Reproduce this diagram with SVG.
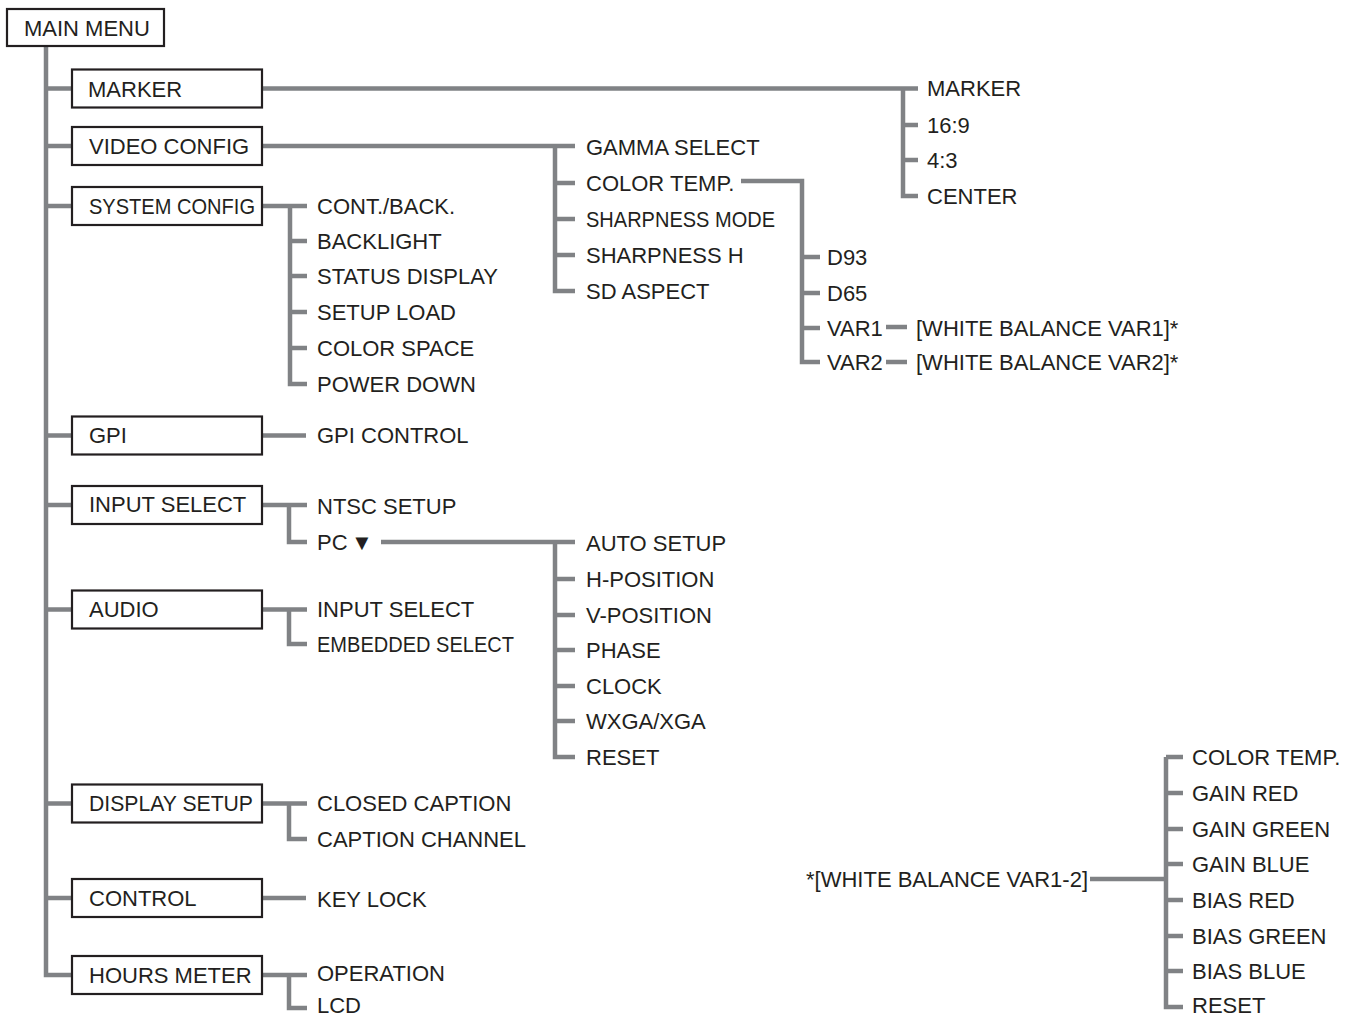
<svg xmlns="http://www.w3.org/2000/svg" width="1355" height="1018" viewBox="0 0 1355 1018">
<style>
text{font-family:"Liberation Sans",Arial,sans-serif;font-size:22px;fill:#231f20}
.box{fill:#fff;stroke:#231f20;stroke-width:2.2}
.ln{fill:none;stroke:#808285;stroke-width:4.5;stroke-linejoin:miter;stroke-linecap:butt}
</style>
<rect width="1355" height="1018" fill="#fff"/>
<g id="connectors" class="ln">
<path d="M46,46 V975 H72 M46,88.5 H72 M46,146 H72 M46,206 H72 M46,435.5 H72 M46,505 H72 M46,609.5 H72 M46,803.5 H72 M46,898 H72"/>
<path d="M262,88.5 H918 M903,88.5 V196 H918 M903,125 H918 M903,160 H918"/>
<path d="M262,146 H575 M555,146 V291 H575 M555,183 H575 M555,219 H575 M555,255 H575"/>
<path d="M741,181 H802 V362 H820 M802,257 H820 M802,293 H820 M802,328 H820"/>
<path d="M886,327 H907 M886,362 H907"/>
<path d="M262,206 H307 M290,206 V384 H307 M290,241 H307 M290,276 H307 M290,312 H307 M290,348 H307"/>
<path d="M263,435.5 H306"/>
<path d="M263,505 H307 M289,505 V542 H307"/>
<path d="M381,542 H575 M555,542 V757 H575 M555,579 H575 M555,615 H575 M555,650 H575 M555,686 H575 M555,721 H575"/>
<path d="M263,609.5 H307 M289,609.5 V644 H307"/>
<path d="M263,803.5 H307 M289,803.5 V839 H307"/>
<path d="M263,898 H306"/>
<path d="M263,975 H307 M289,975 V1008 H307"/>
<path d="M1090,879 H1166 M1166,757 V1007 H1183 M1166,757 H1183 M1166,793 H1183 M1166,829 H1183 M1166,864 H1183 M1166,900 H1183 M1166,936 H1183 M1166,971 H1183"/>
</g>
<g id="main-menu"><rect class="box" x="7" y="9" width="157" height="37"/><text x="24" y="36">MAIN MENU</text></g>
<g id="marker"><rect class="box" x="72" y="69.5" width="190" height="38"/><text x="88" y="97">MARKER</text></g>
<g id="video-config"><rect class="box" x="72" y="127" width="190" height="38"/><text x="89" y="154">VIDEO CONFIG</text></g>
<g id="system-config"><rect class="box" x="72" y="187" width="190" height="38"/><text x="89" y="214" textLength="166" lengthAdjust="spacingAndGlyphs">SYSTEM CONFIG</text></g>
<g id="gpi"><rect class="box" x="72" y="416.5" width="190" height="38"/><text x="89" y="443">GPI</text></g>
<g id="input-select"><rect class="box" x="72" y="486" width="190" height="38"/><text x="89" y="512">INPUT SELECT</text></g>
<g id="audio"><rect class="box" x="72" y="590.5" width="190" height="38"/><text x="89" y="617">AUDIO</text></g>
<g id="display-setup"><rect class="box" x="72" y="784.5" width="190" height="38"/><text x="89" y="811" textLength="164" lengthAdjust="spacingAndGlyphs">DISPLAY SETUP</text></g>
<g id="control"><rect class="box" x="72" y="879" width="190" height="38"/><text x="89" y="906">CONTROL</text></g>
<g id="hours-meter"><rect class="box" x="72" y="956" width="190" height="38"/><text x="89" y="983">HOURS METER</text></g>
<g id="marker-items">
<text x="927" y="96">MARKER</text><text x="927" y="133">16:9</text><text x="927" y="168">4:3</text><text x="927" y="204">CENTER</text>
</g>
<g id="video-items">
<text x="586" y="155">GAMMA SELECT</text><text x="586" y="191">COLOR TEMP.</text><text x="586" y="227" textLength="189" lengthAdjust="spacingAndGlyphs">SHARPNESS MODE</text><text x="586" y="263">SHARPNESS H</text><text x="586" y="299">SD ASPECT</text>
</g>
<g id="color-temp-items">
<text x="827" y="265">D93</text><text x="827" y="301">D65</text><text x="827" y="336">VAR1</text><text x="827" y="370">VAR2</text>
<text x="916" y="336">[WHITE BALANCE VAR1]*</text><text x="916" y="370">[WHITE BALANCE VAR2]*</text>
</g>
<g id="system-items">
<text x="317" y="214">CONT./BACK.</text><text x="317" y="249">BACKLIGHT</text><text x="317" y="284">STATUS DISPLAY</text><text x="317" y="320">SETUP LOAD</text><text x="317" y="356">COLOR SPACE</text><text x="317" y="392">POWER DOWN</text>
</g>
<g id="gpi-items"><text x="317" y="443">GPI CONTROL</text></g>
<g id="input-items"><text x="317" y="550">PC</text><text x="351" y="550">▼</text><text x="317" y="514">NTSC SETUP</text></g>
<g id="pc-items">
<text x="586" y="551">AUTO SETUP</text><text x="586" y="587">H-POSITION</text><text x="586" y="623">V-POSITION</text><text x="586" y="658">PHASE</text><text x="586" y="694">CLOCK</text><text x="586" y="729">WXGA/XGA</text><text x="586" y="765">RESET</text>
</g>
<g id="audio-items"><text x="317" y="617">INPUT SELECT</text><text x="317" y="652" textLength="197" lengthAdjust="spacingAndGlyphs">EMBEDDED SELECT</text></g>
<g id="display-items"><text x="317" y="811">CLOSED CAPTION</text><text x="317" y="847">CAPTION CHANNEL</text></g>
<g id="control-items"><text x="317" y="907">KEY LOCK</text></g>
<g id="hours-items"><text x="317" y="981">OPERATION</text><text x="317" y="1013">LCD</text></g>
<g id="white-balance">
<text x="806" y="887">*[WHITE BALANCE VAR1-2]</text>
<text x="1192" y="765">COLOR TEMP.</text><text x="1192" y="801">GAIN RED</text><text x="1192" y="837">GAIN GREEN</text><text x="1192" y="872">GAIN BLUE</text><text x="1192" y="908">BIAS RED</text><text x="1192" y="944">BIAS GREEN</text><text x="1192" y="979">BIAS BLUE</text><text x="1192" y="1013">RESET</text>
</g>
</svg>
